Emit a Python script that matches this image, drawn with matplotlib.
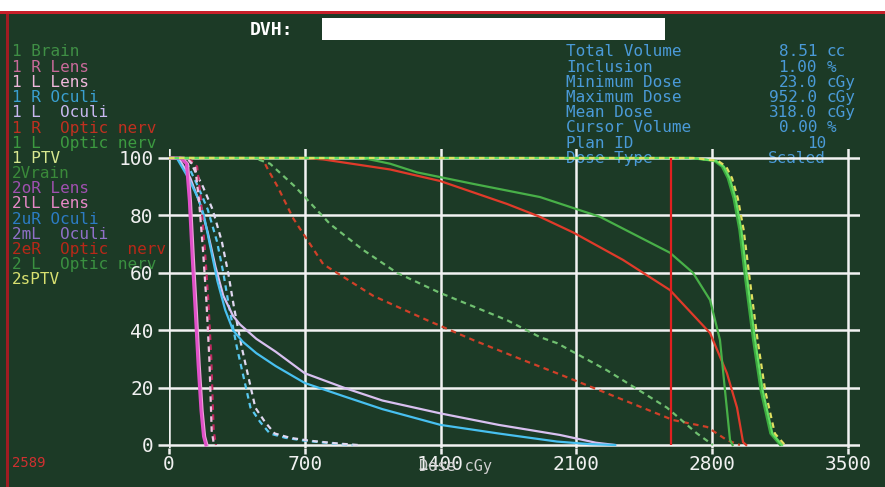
import numpy as np
import matplotlib
matplotlib.use('Agg')
import matplotlib.pyplot as plt
from matplotlib.patches import Rectangle

W, H = 885, 487
MONO = 'DejaVu Sans Mono'

# --- DVH curves: dose (cGy), volume (%) ---
lensR1_dose = [0, 60, 90, 105, 120, 135, 150, 165, 178, 190]
lensR1_vol = [100, 100, 98, 85, 65, 47, 28, 12, 3, 0]
lensL1_dose = [0, 70, 98, 113, 128, 143, 158, 173, 186, 198]
lensL1_vol = [100, 100, 98, 85, 65, 47, 28, 12, 3, 0]
lensR2_dose = [0, 100, 145, 165, 185, 203, 218, 230, 242]
lensR2_vol = [100, 100, 97, 85, 68, 50, 30, 5, 0]
lensL2_dose = [0, 90, 135, 155, 175, 193, 208, 220, 232]
lensL2_vol = [100, 100, 97, 85, 68, 50, 30, 5, 0]

ocR1_dose = [0, 40, 100, 150, 180, 210, 250, 290, 330, 380, 450, 550, 700, 900, 1100, 1400, 1700, 2000, 2170, 2300]
ocR1_vol = [100, 100, 93, 86, 80, 70, 57, 47, 40, 36, 32, 27.5, 21.6, 17, 12.5, 7, 4, 1.2, 0.3, 0]
ocL1_dose = [0, 50, 110, 160, 200, 240, 280, 330, 366, 450, 550, 700, 900, 1100, 1400, 1700, 2015, 2200, 2300]
ocL1_vol = [100, 100, 93, 84, 74, 62, 52, 45, 42, 37, 32.5, 25, 20, 15.5, 11, 7, 3.5, 0.8, 0]
ocR2_dose = [0, 80, 150, 200, 247, 280, 310, 350, 390, 420, 470, 520, 600, 700, 850, 950]
ocR2_vol = [100, 100, 90, 82, 71, 60, 48, 34, 22, 13, 8, 4, 2.5, 1.5, 0.5, 0]
ocL2_dose = [0, 100, 175, 225, 272, 305, 335, 375, 415, 445, 495, 545, 625, 725, 875, 975]
ocL2_vol = [100, 100, 90, 82, 71, 60, 48, 34, 22, 13, 8, 4, 2.5, 1.5, 0.5, 0]

onR1_dose = [0, 700, 795, 1140, 1397, 1742, 1912, 2085, 2340, 2582, 2789, 2876, 2928, 2959, 2975]
onR1_vol = [100, 100, 99.5, 96, 92, 84, 79.5, 74, 64.5, 54, 39, 25, 13, 1, 0]
onL1_dose = [0, 1000, 1140, 1278, 1567, 1912, 2222, 2582, 2701, 2789, 2840, 2866, 2892, 2905]
onL1_vol = [100, 100, 98, 95, 91, 86.4, 79.5, 67, 60, 50.5, 36.6, 19, 1.7, 0]
onR2_dose = [0, 480, 510, 560, 640, 795, 1052, 1330, 1567, 1825, 2000, 2258, 2598, 2773, 2876, 2943]
onR2_vol = [100, 100, 96, 90, 79, 63, 52, 43.5, 36.6, 29.6, 25, 18, 8.7, 6.3, 1.7, 0]
onL2_dose = [0, 440, 521, 650, 830, 1000, 1175, 1397, 1742, 1912, 2000, 2258, 2567, 2722, 2804]
onL2_vol = [100, 100, 98, 90, 77, 68, 60, 53, 43.5, 37.6, 35.5, 26, 13, 4, 0]

ptv1_dose = [0, 2700, 2820, 2860, 2890, 2920, 2950, 2980, 3020, 3060, 3110, 3160]
ptv1_vol = [100, 100, 99, 97, 93, 86, 75, 58, 37, 19, 4, 0]
brain_dose = [0, 2690, 2810, 2850, 2880, 2910, 2940, 2970, 3010, 3050, 3100, 3150]
brain_vol = [100, 100, 99, 97, 93, 86, 75, 58, 37, 19, 4, 0]
ptv2_dose = [0, 2710, 2830, 2872, 2902, 2932, 2962, 2993, 3033, 3073, 3123, 3175]
ptv2_vol = [100, 100, 99, 97, 93, 86, 75, 58, 37, 19, 4, 0]

cursor_dose = 2589

x_ticks = [0, 700, 1400, 2100, 2800, 3500]
y_ticks = [0, 20, 40, 60, 80, 100]

legend_labels = ['1 Brain', '1 R Lens', '1 L Lens', '1 R Oculi', '1 L  Oculi',
                 '1 R  Optic nerv', '1 L  Optic nerv', '1 PTV', '2Vrain', '2oR Lens',
                 '2lL Lens', '2uR Oculi', '2mL  Oculi', '2eR  Optic  nerv',
                 '2 L  Optic nerv', '2sPTV']
legend_colors = ['#3f8f45', '#c86a9a', '#f0b8dc', '#3a9fd0', '#c8b8f0',
                 '#c03020', '#3c9a40', '#d8e890', '#3a8a3a', '#a050b0',
                 '#e888c8', '#2c7cc4', '#9070c8', '#b82818', '#3a9040', '#d8e070']

info_labels = ['Total Volume', 'Inclusion', 'Minimum Dose', 'Maximum Dose',
               'Mean Dose', 'Cursor Volume', 'Plan ID', 'Dose Type']
info_values = ['8.51', '1.00', '23.0', '952.0', '318.0', '0.00', '10', 'Scaled']
info_units = ['cc', '%', 'cGy', 'cGy', 'cGy', '%', '', '']


def fp(x, y):
    return x / W, 1 - y / H


bg = '#1c3a26'
fig = plt.figure(figsize=(W / 100, H / 100), dpi=100, facecolor=bg)

# screen frame: white strip on top, red border line
fig.patches.append(Rectangle((0, 1 - 11 / H), 1, 11 / H, transform=fig.transFigure,
                             facecolor='white', edgecolor='none', zorder=0))
fig.patches.append(Rectangle((0, 1 - 14 / H), 1, 3 / H, transform=fig.transFigure,
                             facecolor='#c8202a', edgecolor='none', zorder=0))
fig.patches.append(Rectangle((6 / W, 0), 3 / W, 1 - 14 / H, transform=fig.transFigure,
                             facecolor='#a01c22', edgecolor='none', zorder=0))

# title and white name box
fig.text(*fp(250, 30), 'DVH:', color='white', family=MONO, fontsize=13,
         fontweight='bold', va='center', ha='left')
fig.patches.append(Rectangle(fp(322, 40), 343 / W, 22 / H, transform=fig.transFigure,
                             facecolor='white', edgecolor='none', zorder=1))

# structure list
for i, (lab, col) in enumerate(zip(legend_labels, legend_colors)):
    fig.text(*fp(12, 52 + 15.2 * i), lab, color=col, family=MONO, fontsize=11.5,
             va='center', ha='left')

# info block
for i, lab in enumerate(info_labels):
    y = 52 + 15.2 * i
    fig.text(*fp(566, y), lab, color='#4a9ad8', family=MONO, fontsize=11.5,
             va='center', ha='left')
    fig.text(*fp(817 if info_units[i] else 826, y), info_values[i], color='#4a9ad8',
             family=MONO, fontsize=11.5, va='center', ha='right')
    if info_units[i]:
        fig.text(*fp(827, y), info_units[i], color='#4a9ad8', family=MONO,
                 fontsize=11.5, va='center', ha='left')

fig.text(*fp(12, 463), str(cursor_dose), color='#d03030', family=MONO,
         fontsize=10, va='center', ha='left')

# plot area
x0, x1 = 0, 3560
y0, y1 = -1, 103
left, right = 169, 169 + (x1 - x0) * 0.194
top, bottom = 445 - y1 * 2.87, 445 - y0 * 2.87
ax = fig.add_axes([left / W, 1 - bottom / H, (right - left) / W, (bottom - top) / H])
ax.set_zorder(5)
ax.patch.set_alpha(0)
ax.set_xlim(x0, x1)
ax.set_ylim(y0, y1)
for s in ax.spines.values():
    s.set_visible(False)

gw = 1.8
for v in y_ticks:
    ax.axhline(v, color='#f2f2f2', lw=gw, zorder=1)
for v in x_ticks:
    ax.axvline(v, color='#f2f2f2', lw=gw, zorder=1)

ax.set_xticks(x_ticks)
ax.set_yticks(y_ticks)
ax.tick_params(axis='y', colors='#f0f0f0', direction='out', length=8, width=gw,
               pad=3, labelsize=14)
ax.tick_params(axis='x', colors='#f0f0f0', direction='out', length=4, width=gw,
               pad=1, labelsize=14)
for t in ax.get_xticklabels() + ax.get_yticklabels():
    t.set_family(MONO)

fig.text(*fp(455, 467), 'Dose cGy', color='#d0d0d0', family=MONO, fontsize=11,
         va='center', ha='center', zorder=10)

lw = 1.6
dash = (0, (2.5, 2))
# optic nerves
ax.plot(onR2_dose, onR2_vol, color='#d04028', lw=lw, ls=dash, zorder=3)
ax.plot(onL2_dose, onL2_vol, color='#70c070', lw=lw, ls=dash, zorder=3)
ax.plot(onR1_dose, onR1_vol, color='#e03a2a', lw=lw, zorder=3)
ax.plot(onL1_dose, onL1_vol, color='#48b048', lw=lw, zorder=3)
# oculi
ax.plot(ocR2_dose, ocR2_vol, color='#58c8f0', lw=lw, ls=dash, zorder=3)
ax.plot(ocL2_dose, ocL2_vol, color='#e0d8f0', lw=lw, ls=dash, zorder=3)
ax.plot(ocL1_dose, ocL1_vol, color='#d8c0f0', lw=lw, zorder=3)
ax.plot(ocR1_dose, ocR1_vol, color='#48c0f0', lw=lw, zorder=3)
# lenses
ax.plot(lensR2_dose, lensR2_vol, color='#c02860', lw=lw, ls=dash, zorder=3)
ax.plot(lensL2_dose, lensL2_vol, color='#f0c0e0', lw=lw, ls=dash, zorder=3)
ax.plot(lensL1_dose, lensL1_vol, color='#f0a0dc', lw=lw, zorder=3)
ax.plot(lensR1_dose, lensR1_vol, color='#e050c8', lw=2.2, zorder=3)
# PTV
ax.plot(brain_dose, brain_vol, color='#3caa40', lw=lw, zorder=3)
ax.plot(ptv1_dose, ptv1_vol, color='#60dc60', lw=lw, zorder=3)
ax.plot(ptv2_dose, ptv2_vol, color='#e0e060', lw=lw, ls=dash, zorder=3)

ax.vlines(cursor_dose, 0, 100, color='#e02020', lw=1.6, zorder=4)

fig.savefig('out.png', dpi=100, facecolor=bg)
